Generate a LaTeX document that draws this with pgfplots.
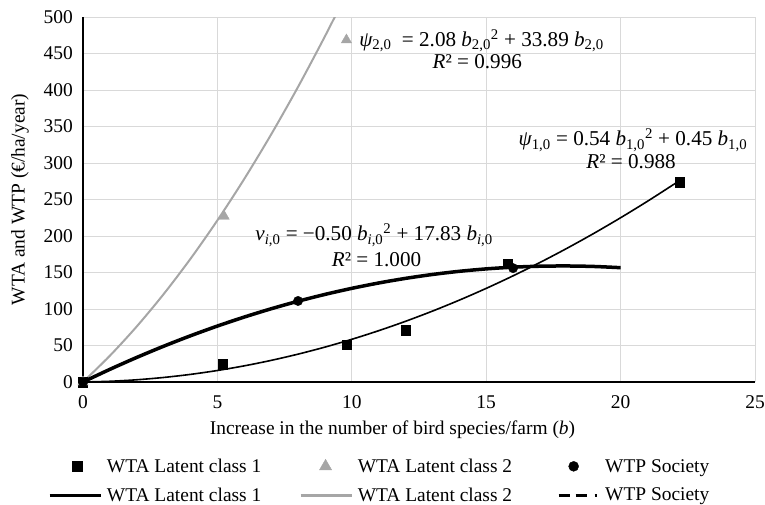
\documentclass[border=0pt]{standalone}
\usepackage{pgfplots}
\pgfplotsset{compat=1.18}
\usepackage{fontspec}
\setmainfont{Liberation Serif}
\definecolor{gridgray}{RGB}{217,217,217}
\definecolor{lgray}{RGB}{166,166,166}
\newcommand{\fs}{\fontsize{19.5}{22}\selectfont}
\newcommand{\fa}{\fontsize{21.2}{23}\selectfont}
\begin{document}
\begin{tikzpicture}
\path[use as bounding box] (-83bp,-123bp) rectangle (682bp,382bp);
\begin{axis}[
 at={(0,0)}, anchor=south west,
 width=672bp, height=365bp, scale only axis,
 xmin=0, xmax=25, ymin=0, ymax=500,
 xtick={0,5,...,25}, ytick={0,50,...,500},
 axis lines*=left,
 axis line style={black, line width=2bp},
 grid=major, major grid style={gridgray, line width=1bp},
 major tick length=0pt,
 font=\fs,
 /pgf/number format/assume math mode=true,
 xticklabel style={anchor=center, inner sep=0pt, yshift=-20bp},
 yticklabel style={anchor=east, inner sep=0pt, xshift=-10bp},
 every axis x label/.style={at={(axis description cs:0.4606,-0.1315)}, anchor=center},
 every axis y label/.style={at={(axis description cs:-0.0938,0.5)}, rotate=90, anchor=center},
 xlabel={Increase in the number of bird species/farm ({\itshape b})},
 ylabel={WTA and WTP (€/ha/year)},
 legend columns=3,
 legend style={draw=none, fill=none, at={(0.4418,-0.2018)}, anchor=north, font=\fs,
   nodes={inner xsep=2bp, inner ysep=1bp},
   row sep=12bp,
   /tikz/every odd column/.append style={column sep=3bp},
   /tikz/column 2/.append style={column sep=36bp},
   /tikz/column 4/.append style={column sep=43bp}},
]
% legend images
\addlegendimage{legend image code/.code={\draw[black, mark=square*, mark size=5bp] plot coordinates {(27bp,0bp)};}}
\addlegendentry{WTA Latent class 1}
\addlegendimage{legend image code/.code={\draw[lgray, fill=lgray, mark=triangle*, mark size=7bp] plot coordinates {(25bp,0bp)};}}
\addlegendentry{WTA Latent class 2}
\addlegendimage{legend image code/.code={\draw[black, mark=*, mark size=5bp] plot coordinates {(15bp,0bp)};}}
\addlegendentry{WTP Society}
\addlegendimage{legend image code/.code={\draw[black, line width=2.5bp] (0bp,0bp) -- (51bp,0bp);}}
\addlegendentry{WTA Latent class 1}
\addlegendimage{legend image code/.code={\draw[lgray, line width=2.5bp] (0bp,0bp) -- (51bp,0bp);}}
\addlegendentry{WTA Latent class 2}
\addlegendimage{legend image code/.code={\draw[black, line width=3bp, dash pattern=on 11bp off 6bp on 11bp off 8bp on 2bp off 20bp] (0bp,0bp) -- (40bp,0bp);}}
\addlegendentry{WTP Society}

% trend lines
\addplot[lgray, line width=2bp, smooth, forget plot] coordinates {
(0,0) (1,35.97) (2,76.10) (3,120.39) (4,168.84) (5,221.45) (6,278.22) (7,339.15) (8,404.24) (9,473.49) (9.8,531.88)};
\addplot[black, line width=1.6bp, smooth, forget plot] coordinates {
(0,0) (1,0.99) (2,3.06) (3,6.21) (4,10.44) (5,15.75) (6,22.14) (7,29.61) (8,38.16) (9,47.79) (10,58.5) (11,70.29) (12,83.16) (13,97.11) (14,112.14) (15,128.25) (16,145.44) (17,163.71) (18,183.06) (19,203.49) (20,225) (21,247.59) (22,271.26) (22.2,276.12)};
\addplot[black, line width=3.5bp, smooth, forget plot] coordinates {
(0,0) (1,17.33) (2,33.66) (3,48.99) (4,63.32) (5,76.65) (6,88.98) (7,100.31) (8,110.64) (9,119.97) (10,128.3) (11,135.63) (12,141.96) (13,147.29) (14,151.62) (15,154.95) (16,157.28) (17,158.61) (18,158.94) (19,158.27) (20,156.6)};

% data points
\addplot[only marks, mark=square*, mark size=4.7bp, black, forget plot] coordinates {
(0,0) (5.2,24.5) (9.8,50.7) (12,71.2) (15.8,162) (22.2,273.5)};
\addplot[only marks, mark=triangle*, mark size=6bp, lgray, fill=lgray, forget plot] coordinates {
(0,0) (5.25,227) (9.8,468.5)};
\addplot[only marks, mark=*, mark size=4.7bp, black, forget plot] coordinates {
(0,0) (8,111) (16,156)};

% trend line equations
\node[anchor=base, font=\fa, inner sep=0pt] at (axis cs:14.825,459.3)
 {{\itshape ψ}\textsubscript{2,0}\ \ = 2.08 {\itshape b}\textsubscript{2,0}\textsuperscript{2} + 33.89 {\itshape b}\textsubscript{2,0}};
\node[anchor=base, font=\fa, inner sep=0pt] at (axis cs:14.67,428.8) {{\itshape R}² = 0.996};
\node[anchor=base, font=\fa, inner sep=0pt] at (axis cs:20.46,323.3)
 {{\itshape ψ}\textsubscript{1,0} = 0.54 {\itshape b}\textsubscript{1,0}\textsuperscript{2} + 0.45 {\itshape b}\textsubscript{1,0}};
\node[anchor=base, font=\fa, inner sep=0pt] at (axis cs:20.39,292.6) {{\itshape R}² = 0.988};
\node[anchor=base, font=\fa, inner sep=0pt] at (axis cs:10.83,193.2)
 {{\itshape v}\textsubscript{\itshape i\upshape ,0} = −0.50 {\itshape b}\textsubscript{\itshape i\upshape ,0}\textsuperscript{2} + 17.83 {\itshape b}\textsubscript{\itshape i\upshape ,0}};
\node[anchor=base, font=\fa, inner sep=0pt] at (axis cs:10.92,158.9) {{\itshape R}² = 1.000};
\end{axis}
\end{tikzpicture}
\end{document}
